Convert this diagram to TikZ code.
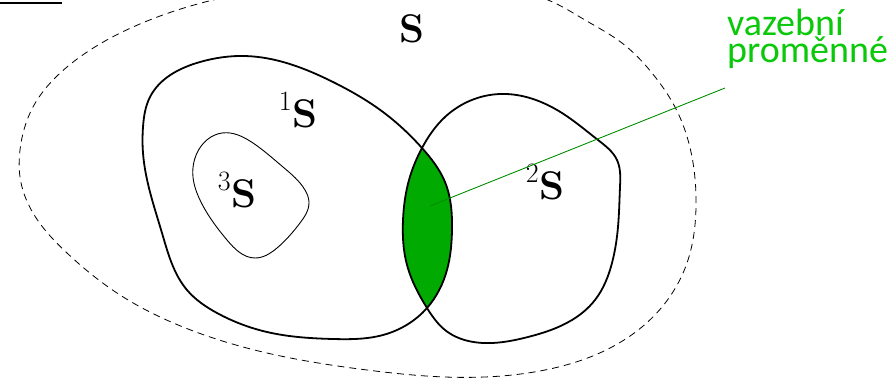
\documentclass[tikz,border=0pt]{standalone}
\usepackage{fontspec}
\usetikzlibrary{hobby}
\newfontfamily\labelfont{Carlito}
\definecolor{lensgreen}{RGB}{0,170,0}
\definecolor{linegreen}{RGB}{0,140,0}
\definecolor{textgreen}{RGB}{10,200,10}
\tikzset{
  setline/.style={line width=1.8pt, line join=round},
  thinset/.style={line width=0.9pt},
  outer/.style={line width=0.8pt, dash pattern=on 7pt off 5pt},
  setlabel/.style={inner sep=0pt, font=\fontsize{40}{44}\selectfont},
  greenlabel/.style={inner sep=0pt, align=left, text=textgreen,
    font=\labelfont\fontsize{38}{27}\selectfont},
  pointer/.style={linegreen, line width=0.9pt}
}
\newcommand\suplabel[1]{{\fontsize{28}{30}\selectfont\raisebox{17pt}{#1}}\kern1pt\textbf{S}}
\def\pathOne{plot[closed hobby] coordinates {(245,56) (333,82) (383,112) (422,148) (445,182) (452,230) (447,270) (427,308) (383,335) (333,339) (267,332) (217,313) (187,290) (162,233) (143,153) (143,127) (150,97) (200,62)}}
\def\pathTwo{plot[closed hobby] coordinates {(422,148) (445,117) (500,94) (562,113) (598,140) (617,160) (620,187) (618,227) (612,263) (595,300) (572,320) (528,337) (492,343) (445,330) (427,308) (407,265) (403,220) (409,180)}}
\begin{document}
\begin{tikzpicture}[x=1pt,y=-1pt]
\useasboundingbox (0,0) rectangle (895,380);
\clip (0,0) rectangle (895,380);
% outer dashed set S
\draw[outer] plot[closed hobby] coordinates {(213,0) (300,-15) (400,-20) (490,-12) (548,0) (585,20) (622,43) (652,73) (675,107) (692,157) (696,207) (688,260) (662,307) (612,347) (545,370) (445,377) (367,370) (267,353) (183,327) (117,293) (67,253) (33,213) (20,177) (20,150) (33,107) (67,67) (133,27)};
% lens: intersection of 1S and 2S
\begin{scope}
  \clip \pathOne;
  \fill[lensgreen] \pathTwo;
\end{scope}
% sets
\draw[setline] \pathOne;
\draw[setline] \pathTwo;
\draw[thinset] plot[closed hobby] coordinates {(222,133) (253,143) (283,167) (305,190) (309,202) (300,223) (277,248) (255,258) (227,240) (200,200) (193,177) (197,153)};
% short line top left
\coordinate (barL) at (0,3);
\coordinate (barR) at (62,3);
\draw[line width=2pt] (barL) -- (barR);
% labels
\node[setlabel, anchor=base] (S) at (412,42) {\textbf{S}};
\node[setlabel, anchor=base east] (S1) at (318,127) {\suplabel{1}};
\node[setlabel, anchor=base east] (S3) at (257,207) {\suplabel{3}};
\node[setlabel, anchor=base east] (S2) at (565,199) {\suplabel{2}};
\node[greenlabel, anchor=base west] (vp) at (727,62) {vazební\\proměnné};
% pointer
\coordinate (lensPt) at (430,206);
\coordinate (tipPt) at (725,88);
\draw[pointer] (lensPt) -- (tipPt);
\end{tikzpicture}
\end{document}
